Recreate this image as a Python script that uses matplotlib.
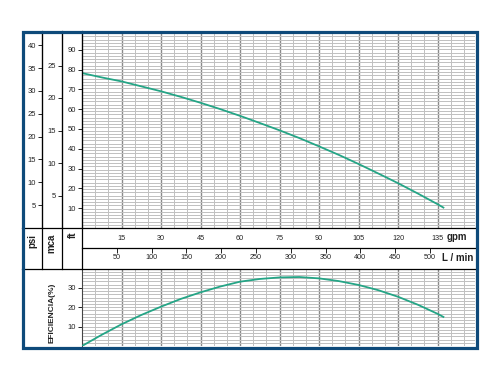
import matplotlib
matplotlib.use("Agg")
import matplotlib.pyplot as plt
from matplotlib.lines import Line2D
from matplotlib.patches import Rectangle
from matplotlib.ticker import MultipleLocator, FixedLocator

plt.rcParams['font.family'] = ['Liberation Sans', 'DejaVu Sans']

# ---- data ----
flow_gpm = [0, 7.5, 15, 22.5, 30, 37.5, 45, 52.5, 60, 67.5, 75, 82.5, 90,
            97.5, 105, 112.5, 120, 127.5, 135, 137.2]
head_ft = [78.2, 76.0, 74.0, 71.5, 69.0, 66.2, 63.2, 60.0, 56.6, 53.0, 49.3,
           45.4, 41.2, 36.9, 32.3, 27.5, 22.6, 17.4, 12.0, 10.3]
eff_pct = [0.0, 5.8, 11.2, 16.0, 20.3, 24.3, 27.7, 30.7, 33.2, 34.6, 35.4,
           35.6, 34.9, 33.5, 31.5, 28.8, 25.4, 21.3, 16.6, 15.0]

gpm_ticks = [15, 30, 45, 60, 75, 90, 105, 120, 135]
lpm_ticks = [50, 100, 150, 200, 250, 300, 350, 400, 450, 500]
ft_ticks = [10, 20, 30, 40, 50, 60, 70, 80, 90]
mca_ticks = [5, 10, 15, 20, 25]
psi_ticks = [5, 10, 15, 20, 25, 30, 35, 40]
eff_ticks = [10, 20, 30]

FT_PER_M = 3.28084
FT_PER_PSI = 2.30666
LPM_PER_GPM = 3.78541
XMAX = 149.0
YMAX_FT = 30 * FT_PER_M

CURVE = '#25a586'
FRAME = '#0e4a7a'
MAJ = '#8a8a8a'
MIN = '#c0c0c0'
TXT = '#222222'

W, H = 488, 368
fig = plt.figure(figsize=(W / 100, H / 100), dpi=100)


def fx(p):
    return p / W


def fy(p):
    return 1 - p / H


PL, PR = 82, 474.5
pw = (PR - PL) / W

# ---- head panel ----
ax = fig.add_axes([fx(PL), fy(228), pw, (228 - 33) / H])
ax.plot(flow_gpm, head_ft, color=CURVE, lw=1.3, zorder=3)
ax.set_xlim(0, XMAX)
ax.set_ylim(0, YMAX_FT)
ax.xaxis.set_major_locator(FixedLocator(gpm_ticks))
ax.xaxis.set_minor_locator(MultipleLocator(5))
ax.yaxis.set_major_locator(FixedLocator(ft_ticks))
ax.yaxis.set_minor_locator(MultipleLocator(0.5 * FT_PER_M))
ax.set_axisbelow(True)
ax.grid(which='major', axis='x', color=MAJ, lw=1.0)
ax.grid(which='minor', axis='x', color=MIN, lw=0.7)
ax.grid(which='minor', axis='y', color=MIN, lw=0.7)
ax.grid(which='major', axis='y', visible=False)
ax.tick_params(which='minor', length=0)
ax.tick_params(axis='x', which='major', length=0, pad=5, labelsize=5.2,
               labelcolor=TXT)
ax.tick_params(axis='y', which='major', length=3, width=0.6, pad=1.5,
               labelsize=5.5, labelcolor=TXT)
for s in ['top', 'right', 'bottom']:
    ax.spines[s].set_visible(False)
ax.spines['left'].set_linewidth(0.8)

loc_mca = (62 - PL) / (PR - PL)
loc_psi = (42 - PL) / (PR - PL)
sm = ax.secondary_yaxis(loc_mca, functions=(lambda v: v / FT_PER_M,
                                             lambda v: v * FT_PER_M))
sm.set_yticks(mca_ticks)
sp = ax.secondary_yaxis(loc_psi, functions=(lambda v: v / FT_PER_PSI,
                                             lambda v: v * FT_PER_PSI))
sp.set_yticks(psi_ticks)
for sa in (sm, sp):
    sa.tick_params(length=3, width=0.6, pad=1.5, labelsize=5.5, labelcolor=TXT)
    sa.spines['left'].set_linewidth(0.8)

# ---- L/min row ----
axL = fig.add_axes([fx(PL), fy(268), pw, 20 / H])
axL.patch.set_visible(False)
axL.set_xlim(0, XMAX * LPM_PER_GPM)
axL.set_xticks(lpm_ticks)
axL.set_yticks([])
for s in axL.spines.values():
    s.set_visible(False)
axL.tick_params(axis='x', top=True, bottom=False, labeltop=False,
                labelbottom=True, direction='in', length=3.5, width=0.6,
                pad=-10, labelsize=5.2, labelcolor=TXT)

# ---- efficiency panel ----
axE = fig.add_axes([fx(PL), fy(346), pw, (346 - 268.5) / H])
axE.plot(flow_gpm, eff_pct, color=CURVE, lw=1.3, zorder=3)
axE.set_xlim(0, XMAX)
axE.set_ylim(0, 40)
axE.xaxis.set_major_locator(FixedLocator(gpm_ticks))
axE.xaxis.set_minor_locator(MultipleLocator(5))
axE.yaxis.set_major_locator(FixedLocator(eff_ticks))
axE.yaxis.set_minor_locator(MultipleLocator(40 / 24))
axE.set_axisbelow(True)
axE.grid(which='major', axis='x', color=MAJ, lw=1.0)
axE.grid(which='minor', axis='x', color=MIN, lw=0.7)
axE.grid(which='minor', axis='y', color=MIN, lw=0.7)
axE.grid(which='major', axis='y', color=MIN, lw=0.7)
axE.tick_params(which='minor', length=0)
axE.tick_params(axis='x', which='major', length=0, labelbottom=False)
axE.tick_params(axis='y', which='major', length=3, width=0.6, pad=1.5,
                labelsize=5.5, labelcolor=TXT)
for s in ['top', 'right', 'bottom']:
    axE.spines[s].set_visible(False)
axE.spines['left'].set_linewidth(0.8)
axE.spines['left'].set_color('#444444')

# ---- separators ----
def hline(y, x0, x1, lw=0.9, c='black'):
    fig.add_artist(Line2D([fx(x0), fx(x1)], [fy(y), fy(y)], color=c, lw=lw,
                          transform=fig.transFigure, zorder=5))


def vline(x, y0, y1, lw=0.9, c='black'):
    fig.add_artist(Line2D([fx(x), fx(x)], [fy(y0), fy(y1)], color=c, lw=lw,
                          transform=fig.transFigure, zorder=5))


hline(228, 22, 476)
hline(248, 82, 476)
hline(268.5, 22, 476)
vline(42, 31, 268.5)
vline(62, 31, 268.5)
vline(82, 31, 268.5)

# ---- text ----
fig.text(fx(32), fy(241.5), 'psi', rotation=90, ha='center', va='center',
         fontsize=7, fontweight='bold', color='#222222')
fig.text(fx(51.5), fy(243), 'mca', rotation=90, ha='center', va='center',
         fontsize=7, fontweight='bold', color='#222222')
fig.text(fx(73), fy(235), 'ft', rotation=90, ha='center', va='center',
         fontsize=7, fontweight='bold', color='#222222')
fig.text(fx(456.5), fy(237.5), 'gpm', ha='center', va='center',
         fontsize=7, fontweight='bold', color='#222222')
fig.text(fx(457.5), fy(258), 'L / min', ha='center', va='center',
         fontsize=7, fontweight='bold', color='#222222')
fig.text(fx(52), fy(312.5), 'EFICIENCIA(%)', rotation=90, ha='center',
         va='center', fontsize=6, fontweight='bold', color='#222222')

# ---- outer frame ----
fig.add_artist(Rectangle((fx(22.5), fy(347.5)), fx(476.5) - fx(22.5),
                         fy(31.5) - fy(347.5), fill=False, edgecolor=FRAME,
                         lw=2.3, transform=fig.transFigure, zorder=10))

fig.savefig('out.png', dpi=100)
